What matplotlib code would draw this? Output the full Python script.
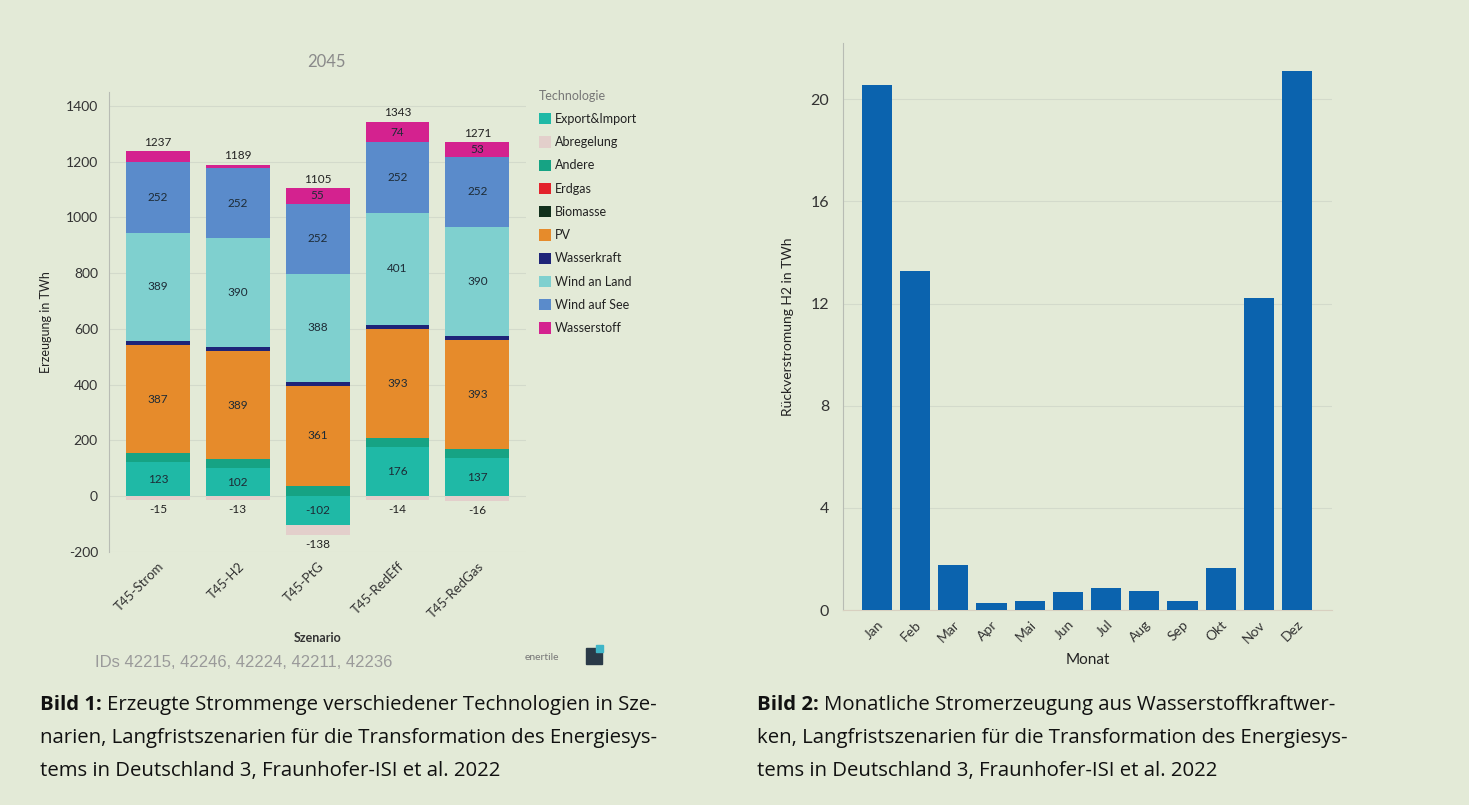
import numpy as np
import matplotlib
matplotlib.use('Agg')
import matplotlib.pyplot as plt
from matplotlib.patches import Patch, Rectangle
from matplotlib import rcParams

rcParams['font.family'] = ['Lato', 'DejaVu Sans']
rcParams['axes.unicode_minus'] = False
rcParams['axes.edgecolor'] = '#b8bcb4'
rcParams['xtick.color'] = '#333333'
rcParams['ytick.color'] = '#333333'

BG = '#e3ead7'

# --- Bild 1 data (TWh, 2045) ---
scenarios = ['T45-Strom', 'T45-H2', 'T45-PtG', 'T45-RedEff', 'T45-RedGas']
technologies = ['Export&Import', 'Abregelung', 'Andere', 'Erdgas', 'Biomasse',
                'PV', 'Wasserkraft', 'Wind an Land', 'Wind auf See', 'Wasserstoff']
tech_colors = ['#1fb9a6', '#e3cfcb', '#16a384', '#e3222b', '#12301c',
               '#e68b2b', '#1e2478', '#7fd0cf', '#5a8bcb', '#d4228f']
export_import = [123, 102, -102, 176, 137]
abregelung = [-15, -13, -36, -14, -16]
andere = [32, 30, 36, 32, 31]
erdgas = [0, 0, 0, 0, 0]
biomasse = [0, 0, 0, 0, 0]
pv = [387, 389, 361, 393, 393]
wasserkraft = [15, 14, 13, 15, 15]
wind_land = [389, 390, 388, 401, 390]
wind_see = [252, 252, 252, 252, 252]
wasserstoff = [39, 12, 55, 74, 53]

# --- Bild 2 data (TWh) ---
months = ['Jan', 'Feb', 'Mar', 'Apr', 'Mai', 'Jun', 'Jul', 'Aug', 'Sep', 'Okt', 'Nov', 'Dez']
h2_power = [20.55, 13.27, 1.77, 0.27, 0.37, 0.70, 0.86, 0.76, 0.35, 1.63, 12.21, 21.12]

series = [export_import, abregelung, andere, erdgas, biomasse,
          pv, wasserkraft, wind_land, wind_see, wasserstoff]

fig = plt.figure(figsize=(14.69, 8.05), dpi=100, facecolor=BG)

# ---------------- left chart ----------------
ax = fig.add_axes([0.0742, 0.3143, 0.284, 0.5714], facecolor=BG)
x = np.arange(len(scenarios))
pos_bottom = np.zeros(len(scenarios))
neg_bottom = np.zeros(len(scenarios))
for name, vals, col in zip(technologies, series, tech_colors):
    vals = np.array(vals, dtype=float)
    bottom = np.where(vals >= 0, pos_bottom, neg_bottom)
    ax.bar(x, vals, bottom=bottom, width=0.8, color=col, zorder=3)
    for i, v in enumerate(vals):
        if abs(v) >= 50:
            ax.text(x[i], bottom[i] + v / 2, '%d' % v, ha='center', va='center',
                    fontsize=8.5, color='#1d2b36', zorder=4)
    pos_bottom += np.where(vals >= 0, vals, 0)
    neg_bottom += np.where(vals < 0, vals, 0)

# totals above / below each bar
for i in range(len(scenarios)):
    ax.text(x[i], pos_bottom[i] + 12, '%d' % pos_bottom[i], ha='center', va='bottom',
            fontsize=8.5, color='#222222')
    ax.text(x[i], neg_bottom[i] - 14, '%d' % neg_bottom[i], ha='center', va='top',
            fontsize=8.5, color='#222222')

ax.set_xlim(-0.6125, 4.6125)
ax.set_ylim(-200, 1450)
ax.set_yticks(range(-200, 1401, 200))
ax.grid(axis='y', color='#d3dacb', linewidth=0.8, zorder=0)
ax.set_xticks(x)
ax.set_xticklabels(scenarios, rotation=45, ha='right', rotation_mode='anchor', fontsize=9.5)
ax.tick_params(axis='y', labelsize=10, length=0, pad=8)
ax.tick_params(axis='x', length=0, pad=6)
for s in ['top', 'right', 'bottom']:
    ax.spines[s].set_visible(False)
ax.spines['left'].set_color('#b8bcb4')
ax.set_ylabel('Erzeugung in TWh', fontsize=9, color='#222222', labelpad=10)
ax.set_xlabel('Szenario', fontsize=9, color='#333333', fontweight='bold', labelpad=8)
ax.set_title('2045', fontsize=12, color='#8a8a8a', pad=18, x=0.52)

handles = [Patch(facecolor=c, edgecolor='none') for c in tech_colors]
leg = ax.legend(handles, technologies, title='Technologie', loc='upper left',
                bbox_to_anchor=(1.03, 1.005), frameon=False, fontsize=9,
                title_fontsize=9, handlelength=1.0, handleheight=1.0,
                handletextpad=0.3, labelspacing=0.9, borderaxespad=0, borderpad=0)
leg._legend_box.align = 'left'
leg.get_title().set_color('#777777')
for t in leg.get_texts():
    t.set_color('#222222')

fig.text(95 / 1469, 1 - 662 / 805, 'IDs 42215, 42246, 42224, 42211, 42236',
         fontsize=12, color='#9a9a9a', family='Liberation Sans', va='center')
fig.text(525 / 1469, 1 - 657 / 805, 'enertile', fontsize=7.5, color='#777777', va='center')
# small logo mark
fig.add_artist(Rectangle((586 / 1469, 1 - 664 / 805), 16 / 1469, 16 / 805,
                         transform=fig.transFigure, color='#2a3a48'))
fig.add_artist(Rectangle((596 / 1469, 1 - 652 / 805), 7 / 1469, 7 / 805,
                         transform=fig.transFigure, color='#3fb6c8'))

# ---------------- right chart ----------------
ax2 = fig.add_axes([0.5739, 0.2422, 0.3329, 0.7043], facecolor=BG)
xm = np.arange(len(months))
ax2.bar(xm, h2_power, width=0.79, color='#0b63ae', zorder=3)
ax2.set_xlim(-0.89, 11.92)
ax2.set_ylim(0, 22.2)
ax2.set_yticks([0, 4, 8, 12, 16, 20])
ax2.grid(axis='y', color='#d3dacb', linewidth=0.8, zorder=0)
ax2.set_xticks(xm)
ax2.set_xticklabels(months, rotation=45, ha='right', rotation_mode='anchor', fontsize=10)
ax2.tick_params(axis='y', labelsize=11.5, length=0, pad=10)
ax2.tick_params(axis='x', length=0, pad=6)
for s in ['top', 'right']:
    ax2.spines[s].set_visible(False)
ax2.spines['left'].set_color('#b8bcb4')
ax2.spines['bottom'].set_color('#d8d0c0')
ax2.set_ylabel('Rückverstromung H2 in TWh', fontsize=10, color='#222222', labelpad=12)
ax2.set_xlabel('Monat', fontsize=11, color='#222222', labelpad=6)

# ---------------- captions ----------------
cap_font = ['Open Sans', 'DejaVu Sans']
cap1 = ['Erzeugte Strommenge verschiedener Technologien in Sze-',
        'narien, Langfristszenarien für die Transformation des Energiesys-',
        'tems in Deutschland 3, Fraunhofer-ISI et al. 2022']
cap2 = ['Monatliche Stromerzeugung aus Wasserstoffkraftwer-',
        'ken, Langfristszenarien für die Transformation des Energiesys-',
        'tems in Deutschland 3, Fraunhofer-ISI et al. 2022']
for x0, head, lines in [(40, 'Bild 1: ', cap1), (757, 'Bild 2: ', cap2)]:
    for k, line in enumerate(lines):
        y = 1 - (705 + 33 * k) / 805
        if k == 0:
            t = fig.text(x0 / 1469, y, head, fontsize=14.7, family=cap_font,
                         fontweight='bold', color='#111111', va='center')
            fig.canvas.draw()
            bb = t.get_window_extent()
            fig.text(bb.x1 / 1469, y, line, fontsize=14.7, family=cap_font,
                     color='#111111', va='center')
        else:
            fig.text(x0 / 1469, y, line, fontsize=14.7, family=cap_font,
                     color='#111111', va='center')

fig.savefig('out.png', dpi=100, facecolor=BG)
